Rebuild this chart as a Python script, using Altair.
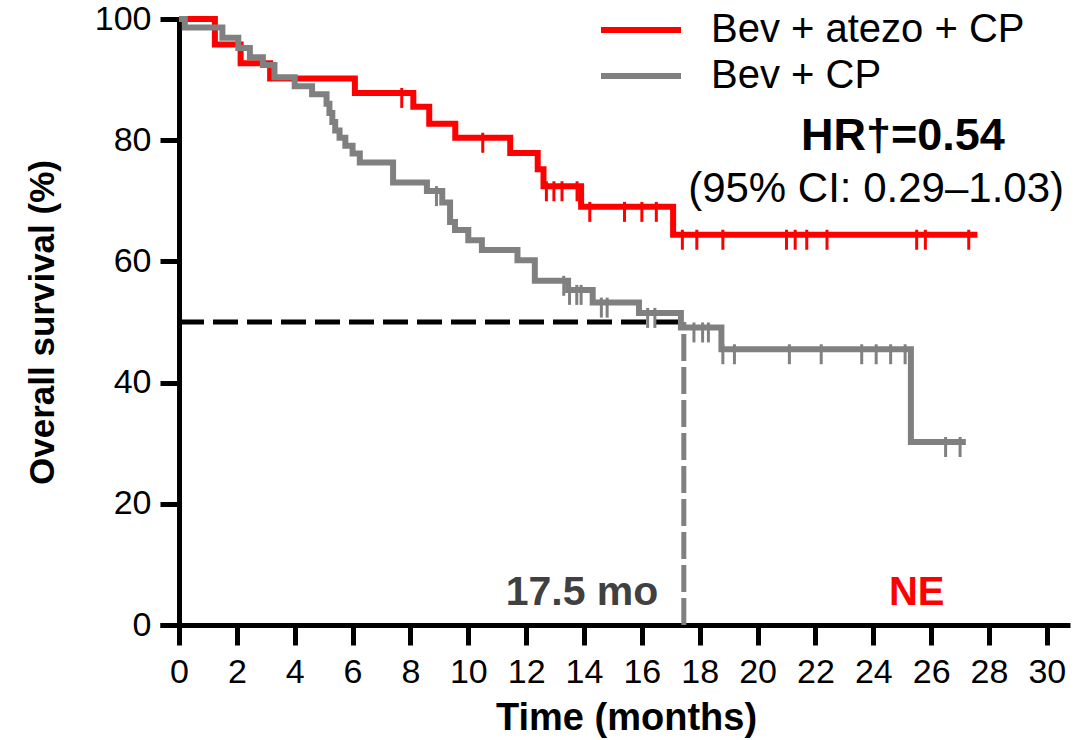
import altair as alt
import pandas as pd

# ---- data ----
arms = ["Bev + atezo + CP", "Bev + CP"]
colors = ["#ff0000", "#808080"]

red_t = [0, 1.24, 2.13, 3.15, 6.08, 8.1, 8.65, 9.55, 11.45, 12.4, 12.6, 13.9, 17.08]
red_s = [100, 95.8, 92.7, 90.2, 87.8, 85.5, 82.7, 80.4, 77.9, 75.2, 72.4, 69.0, 64.4]
red_end = 27.6
red_cens = [7.7, 10.5, 12.7, 12.96, 13.24, 13.76, 14.2, 15.4, 16.0, 16.5, 17.4, 17.9,
            18.8, 21.0, 21.3, 21.7, 22.4, 25.5, 25.8, 27.3]

gray_t = [0, 0.2, 1.5, 2.05, 2.45, 2.9, 3.3, 4.0, 4.6, 5.1, 5.2, 5.3, 5.4, 5.55, 5.75,
          6.0, 6.25, 7.4, 8.57, 9.1, 9.37, 9.54, 10.0, 10.47, 11.7, 12.3, 13.45, 14.3,
          15.9, 17.35, 18.75, 25.3]
gray_s = [100, 98.6, 96.9, 95.2, 93.7, 92.4, 90.4, 88.9, 87.6, 86.0, 84.5, 83.0, 81.6,
          80.4, 79.1, 77.8, 76.3, 73.0, 71.6, 69.7, 66.5, 65.2, 63.5, 61.9, 60.2, 56.8,
          55.3, 53.2, 51.5, 49.1, 45.5, 30.2]
gray_end = 27.2
gray_cens = [8.9, 13.3, 13.5, 13.75, 13.9, 14.6, 14.8, 16.2, 16.45, 17.8, 18.1, 18.3,
             18.8, 19.2, 21.1, 22.2, 23.6, 24.1, 24.6, 25.1, 26.5, 27.0]

median_gray = 17.45
x_ticks = list(range(0, 31, 2))
y_ticks = [0, 20, 40, 60, 80, 100]

FONT = "Liberation Sans"


def curve_rows(ts, ss, end, arm):
    rows = [{"t": t, "s": s, "arm": arm} for t, s in zip(ts, ss)]
    rows.append({"t": end, "s": ss[-1], "arm": arm})
    return rows


def level(ts, ss, c):
    v = ss[0]
    for t, s in zip(ts, ss):
        if t <= c:
            v = s
    return v


curves = pd.DataFrame(curve_rows(red_t, red_s, red_end, arms[0]) +
                      curve_rows(gray_t, gray_s, gray_end, arms[1]))
cens_red = pd.DataFrame({"t": red_cens, "s": [level(red_t, red_s, c) for c in red_cens]})
cens_gray = pd.DataFrame({"t": gray_cens, "s": [level(gray_t, gray_s, c) for c in gray_cens]})

x_enc = alt.X("t:Q",
              scale=alt.Scale(domain=[-0.657, 30.8], nice=False, zero=False),
              axis=alt.Axis(values=x_ticks, title="Time (months)", grid=False,
                            domainColor="black", domainWidth=5, tickColor="black",
                            tickWidth=5, tickSize=20, labelFontSize=34, labelFont=FONT,
                            labelColor="black", labelPadding=10, titleFontSize=38,
                            titleFont=FONT, titleFontWeight="bold", titleColor="black",
                            titlePadding=10, titleX=466, labelFlush=False))
y_enc = alt.Y("s:Q",
              scale=alt.Scale(domain=[0, 100], nice=False),
              axis=alt.Axis(values=y_ticks, title="Overall survival (%)", grid=False,
                            offset=-19, domainColor="black", domainWidth=5,
                            tickColor="black", tickWidth=5, tickSize=19,
                            labelFontSize=34, labelFont=FONT, labelColor="black",
                            labelPadding=9, titleFontSize=35, titleFont=FONT,
                            titleFontWeight="bold", titleColor="black", titlePadding=34))

med_h = pd.DataFrame({"t": [0], "t2": [median_gray], "s": [50]})
med_v = pd.DataFrame({"t": [median_gray], "s": [0], "s2": [50]})

hline = alt.Chart(med_h).mark_rule(color="black", strokeWidth=5, strokeDash=[25, 9]).encode(
    x=x_enc, x2="t2:Q", y=y_enc)
vline = alt.Chart(med_v).mark_rule(color="#808080", strokeWidth=5, strokeDash=[27, 6]).encode(
    x=x_enc, y=y_enc, y2="s2:Q")

lines = alt.Chart(curves).mark_line(interpolate="step-after", strokeWidth=6).encode(
    x=x_enc, y=y_enc,
    color=alt.Color("arm:N", scale=alt.Scale(domain=arms, range=colors),
                    legend=alt.Legend(title=None, orient="none", legendX=438, legendY=-12,
                                      symbolType="stroke", symbolSize=6400,
                                      symbolStrokeWidth=6, labelFontSize=40,
                                      labelFont=FONT, labelColor="black", labelOffset=27,
                                      labelLimit=0, clipHeight=46, rowPadding=0,
                                      padding=0)),
    order="t:Q")

tick_shape = "M0,-0.4L0,1.2"
c_red = alt.Chart(cens_red).mark_point(shape=tick_shape, size=625, filled=False,
                                       strokeWidth=3, color=colors[0], opacity=1).encode(
    x=x_enc, y=y_enc)
c_gray = alt.Chart(cens_gray).mark_point(shape=tick_shape, size=625, filled=False,
                                         strokeWidth=3, color=colors[1], opacity=1).encode(
    x=x_enc, y=y_enc)

hr_df = pd.DataFrame({"t": [21.5], "s": [80.7], "label": ["HR\u2020=0.54"]})
ci_df = pd.DataFrame({"t": [17.6], "s": [71.9], "label": ["(95% CI: 0.29\u20131.03)"]})
med_lab = pd.DataFrame({"t": [13.93], "s": [5.3], "label": ["17.5 mo"]})
ne_lab = pd.DataFrame({"t": [25.5], "s": [5.3], "label": ["NE"]})

hr_txt = alt.Chart(hr_df).mark_text(align="left", baseline="middle", font=FONT,
                                    fontSize=45, fontWeight="bold", color="black").encode(
    x=x_enc, y=y_enc, text="label:N")
ci_txt = alt.Chart(ci_df).mark_text(align="left", baseline="middle", font=FONT,
                                    fontSize=42, color="black").encode(
    x=x_enc, y=y_enc, text="label:N")
med_txt = alt.Chart(med_lab).mark_text(align="center", baseline="middle", font=FONT,
                                       fontSize=41, fontWeight="bold", color="#404040").encode(
    x=x_enc, y=y_enc, text="label:N")
ne_txt = alt.Chart(ne_lab).mark_text(align="center", baseline="middle", font=FONT,
                                     fontSize=40, fontWeight="bold", color="#ff0000").encode(
    x=x_enc, y=y_enc, text="label:N")

chart = alt.layer(hline, vline, lines, c_gray, c_red, hr_txt, ci_txt, med_txt, ne_txt).properties(
    width=910, height=606,
    autosize=alt.AutoSizeParams(type="none"),
    padding={"left": 160, "top": 19, "right": 9, "bottom": 115},
    background="white",
).configure_view(stroke=None)

chart.save("out.html", embed_options={"renderer": "svg", "actions": False})
